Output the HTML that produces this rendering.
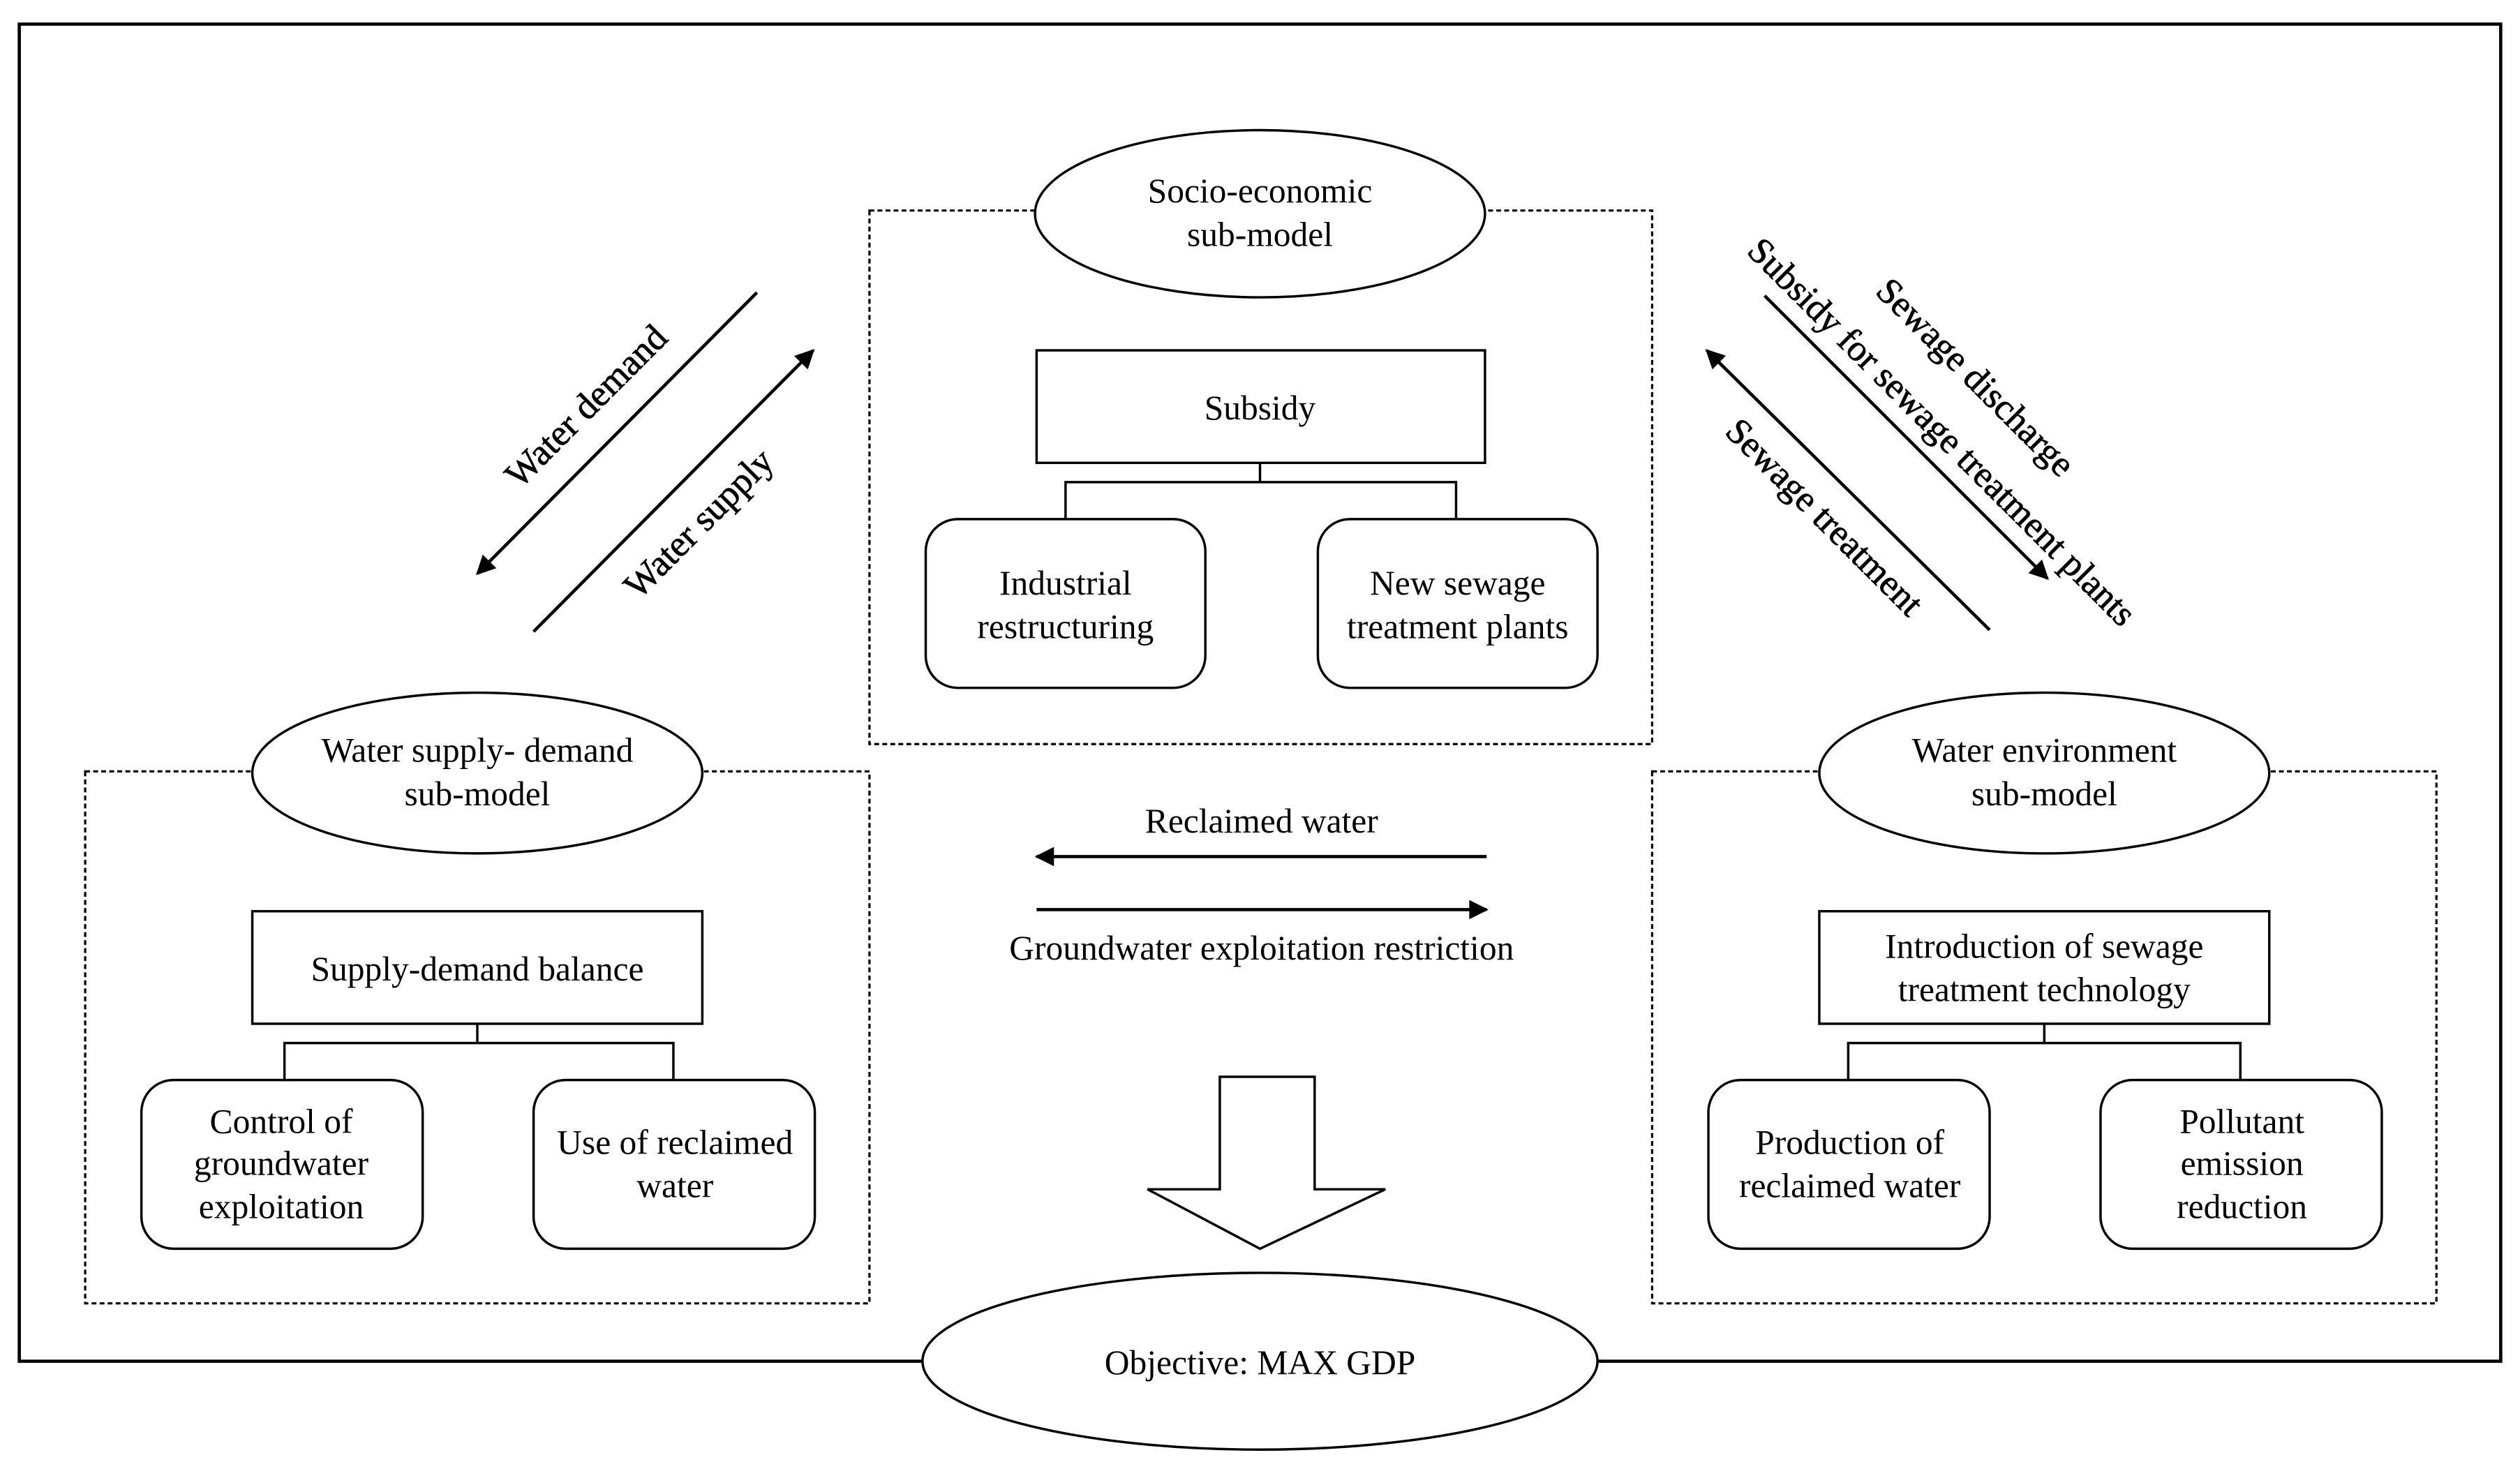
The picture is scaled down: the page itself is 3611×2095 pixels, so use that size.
<!DOCTYPE html>
<html><head><meta charset="utf-8"><style>
html,body{margin:0;padding:0;background:#fff;}
svg{display:block;}
text{font-family:"Liberation Serif",serif;font-size:21.5px;fill:#000;}
.d{font-size:22.8px;stroke:#000;stroke-width:0.35;}
</style></head><body>
<svg width="3611" height="2095" viewBox="0 0 1568 909.7" preserveAspectRatio="none" xmlns="http://www.w3.org/2000/svg">
<defs>
<marker id="ah2" viewBox="0 0 10 10" refX="9" refY="5" markerWidth="16" markerHeight="12" markerUnits="userSpaceOnUse" orient="auto"><path d="M0,0 L10,5 L0,10 z" fill="#000"/></marker>
</defs>
<g fill="none" stroke="#000" stroke-width="1.4">
<rect x="12" y="15" width="1544" height="832" stroke-width="2"/>
<rect x="541" y="131" width="487" height="332" stroke-dasharray="3,2"/>
<rect x="53" y="480" width="488" height="331" stroke-dasharray="3,2"/>
<rect x="1028" y="480" width="488" height="331" stroke-dasharray="3,2"/>
</g>
<g fill="#fff" stroke="#000" stroke-width="1.5">
<ellipse cx="784" cy="133" rx="140" ry="52"/>
<ellipse cx="297" cy="481" rx="140" ry="50"/>
<ellipse cx="1272" cy="481" rx="140" ry="50"/>
<ellipse cx="784" cy="847" rx="210" ry="55"/>
<rect x="645" y="218" width="279" height="70"/>
<rect x="157" y="567" width="280" height="70"/>
<rect x="1132" y="567" width="280" height="70"/>
<rect x="576" y="323" width="174" height="105" rx="20"/>
<rect x="820" y="323" width="174" height="105" rx="20"/>
<rect x="88" y="672" width="175" height="105" rx="20"/>
<rect x="332" y="672" width="175" height="105" rx="20"/>
<rect x="1063" y="672" width="175" height="105" rx="20"/>
<rect x="1307" y="672" width="175" height="105" rx="20"/>
<path d="M759,670 L818,670 L818,740 L862,740 L784,777 L714,740 L759,740 Z"/>
</g>
<g fill="none" stroke="#000" stroke-width="1.5">
<path d="M784,288 V300 M663,323 V300 H906 V323"/>
<path d="M297,637 V649 M177,672 V649 H419 V672"/>
<path d="M1272,637 V649 M1150,672 V649 H1394 V672"/>
<line x1="925" y1="533" x2="645" y2="533" marker-end="url(#ah2)" stroke-width="2"/>
<line x1="645" y1="566" x2="925" y2="566" marker-end="url(#ah2)" stroke-width="2"/>
<line x1="471" y1="182" x2="297" y2="357" marker-end="url(#ah2)" stroke-width="2"/>
<line x1="332" y1="393" x2="506" y2="218" marker-end="url(#ah2)" stroke-width="2"/>
<line x1="1238" y1="392" x2="1062" y2="218" marker-end="url(#ah2)" stroke-width="2"/>
<line x1="1098" y1="184" x2="1274" y2="360" marker-end="url(#ah2)" stroke-width="2"/>
</g>
<g text-anchor="middle">
<text x="784" y="126">Socio-economic</text>
<text x="784" y="153">sub-model</text>
<text x="784" y="261">Subsidy</text>
<text x="663" y="370">Industrial</text>
<text x="663" y="397">restructuring</text>
<text x="907" y="370">New sewage</text>
<text x="907" y="397">treatment plants</text>
<text x="297" y="474">Water supply- demand</text>
<text x="297" y="501">sub-model</text>
<text x="297" y="610">Supply-demand balance</text>
<text x="175" y="705">Control of</text>
<text x="175" y="731">groundwater</text>
<text x="175" y="758">exploitation</text>
<text x="420" y="718">Use of reclaimed</text>
<text x="420" y="745">water</text>
<text x="1272" y="474">Water environment</text>
<text x="1272" y="501">sub-model</text>
<text x="1272" y="596">Introduction of sewage</text>
<text x="1272" y="623">treatment technology</text>
<text x="1151" y="718">Production of</text>
<text x="1151" y="745">reclaimed water</text>
<text x="1395" y="705">Pollutant</text>
<text x="1395" y="731">emission</text>
<text x="1395" y="758">reduction</text>
<text x="785" y="518">Reclaimed water</text>
<text x="785" y="597">Groundwater exploitation restriction</text>
<text x="784" y="855">Objective: MAX GDP</text>
<text class="d" transform="translate(370,258) rotate(-45)">Water demand</text>
<text class="d" transform="translate(440,331) rotate(-45)">Water supply</text>
<text class="d" transform="translate(1224,240) rotate(45)">Sewage discharge</text>
<text class="d" transform="translate(1203,274) rotate(45)">Subsidy for sewage treatment plants</text>
<text class="d" transform="translate(1130,327) rotate(45)">Sewage treatment</text>
</g>
</svg>
</body></html>
